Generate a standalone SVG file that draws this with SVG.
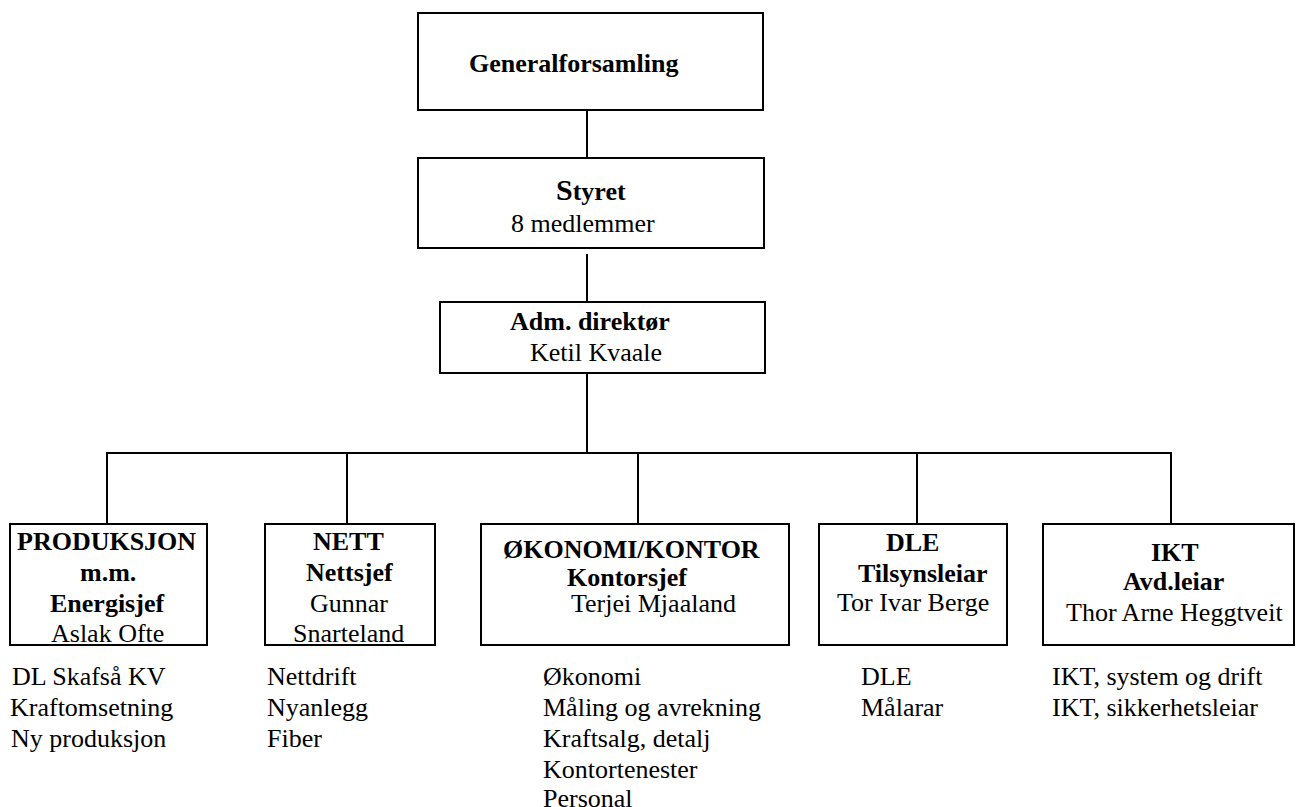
<svg xmlns="http://www.w3.org/2000/svg" width="1298" height="807" viewBox="0 0 1298 807">
<style>
.box{fill:#fff;stroke:#000;stroke-width:2}
.ln{stroke:#000;stroke-width:2;fill:none}
text{font-family:"Liberation Serif","Times New Roman",serif;font-size:26px;fill:#000}
.b{font-weight:bold}
</style>
<rect width="1298" height="807" fill="#fff"/>
<g id="connectors">
<line class="ln" x1="587" y1="110" x2="587" y2="158"/>
<line class="ln" x1="587" y1="254" x2="587" y2="302"/>
<line class="ln" x1="587" y1="373" x2="587" y2="453"/>
<line class="ln" x1="106" y1="453" x2="1172" y2="453"/>
<line class="ln" x1="107" y1="453" x2="107" y2="524"/>
<line class="ln" x1="347" y1="453" x2="347" y2="524"/>
<line class="ln" x1="638" y1="453" x2="638" y2="524"/>
<line class="ln" x1="917" y1="453" x2="917" y2="524"/>
<line class="ln" x1="1171" y1="453" x2="1171" y2="524"/>
</g>
<g id="generalforsamling">
<rect class="box" x="418" y="13" width="345" height="97"/>
<text class="b" x="469" y="72">Generalforsamling</text>
</g>
<g id="styret">
<rect class="box" x="418" y="158" width="346" height="90"/>
<text class="b" x="556" y="200"><tspan font-size="30">S</tspan>tyret</text>
<text x="511" y="232">8 medlemmer</text>
</g>
<g id="adm">
<rect class="box" x="440" y="302" width="325" height="71"/>
<text class="b" x="510" y="330">Adm. direktør</text>
<text x="530" y="361">Ketil Kvaale</text>
</g>
<g id="produksjon">
<rect class="box" x="10" y="524" width="197" height="121"/>
<text class="b" x="17" y="550">PRODUKSJON</text>
<text class="b" x="80" y="581">m.m.</text>
<text class="b" x="50" y="612">Energisjef</text>
<text x="51" y="642">Aslak Ofte</text>
<text x="12" y="685">DL Skafså KV</text>
<text x="10" y="716">Kraftomsetning</text>
<text x="11" y="747">Ny produksjon</text>
</g>
<g id="nett">
<rect class="box" x="265" y="524" width="170" height="121"/>
<text class="b" x="313" y="550">NETT</text>
<text class="b" x="306" y="581">Nettsjef</text>
<text x="310" y="612">Gunnar</text>
<text x="293" y="642">Snarteland</text>
<text x="267" y="685">Nettdrift</text>
<text x="267" y="716">Nyanlegg</text>
<text x="267" y="747">Fiber</text>
</g>
<g id="okonomi">
<rect class="box" x="481" y="524" width="308" height="121"/>
<text class="b" x="503" y="558">ØKONOMI/KONTOR</text>
<text class="b" x="567" y="586">Kontorsjef</text>
<text x="571" y="612">Terjei Mjaaland</text>
<text x="543" y="685">Økonomi</text>
<text x="543" y="716">Måling og avrekning</text>
<text x="543" y="747">Kraftsalg, detalj</text>
<text x="543" y="778">Kontortenester</text>
<text x="543" y="807">Personal</text>
</g>
<g id="dle">
<rect class="box" x="819" y="524" width="188" height="121"/>
<text class="b" x="886" y="551">DLE</text>
<text class="b" x="858" y="582">Tilsynsleiar</text>
<text x="837" y="611">Tor Ivar Berge</text>
<text x="861" y="685">DLE</text>
<text x="861" y="716">Målarar</text>
</g>
<g id="ikt">
<rect class="box" x="1043" y="524" width="251" height="121"/>
<text class="b" x="1151" y="561">IKT</text>
<text class="b" x="1123" y="590">Avd.leiar</text>
<text x="1066" y="621">Thor Arne Heggtveit</text>
<text x="1052" y="685">IKT, system og drift</text>
<text x="1052" y="716">IKT, sikkerhetsleiar</text>
</g>
</svg>
